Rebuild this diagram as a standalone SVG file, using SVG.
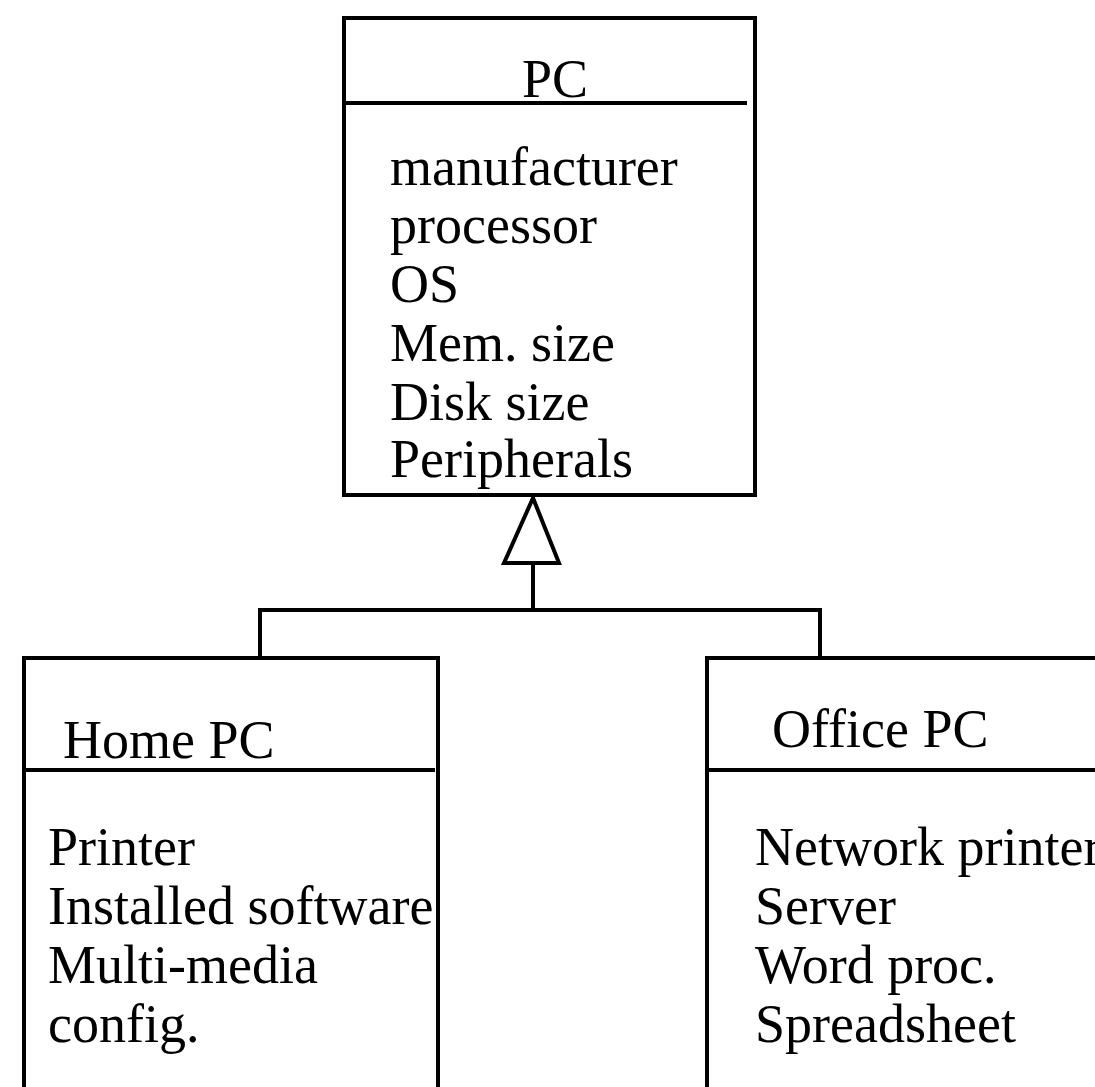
<svg xmlns="http://www.w3.org/2000/svg" width="1095" height="1087" viewBox="0 0 1095 1087">
<style>
.box{fill:#fff;stroke:#000;stroke-width:4}
.ln{stroke:#000;stroke-width:4;fill:none}
.t{font-family:"Liberation Serif","Times New Roman",serif;font-size:54px;fill:#000}
</style>
<rect width="1095" height="1087" fill="#fff"/>
<g id="connectors">
<polygon class="ln" points="533,498 504,563 559,563" fill="#fff"/>
<line class="ln" x1="533" y1="563" x2="533" y2="610"/>
<line class="ln" x1="260" y1="610" x2="821" y2="610"/>
<line class="ln" x1="260" y1="608" x2="260" y2="658"/>
<line class="ln" x1="820" y1="608" x2="820" y2="658"/>
</g>
<g id="pc">
<rect class="box" x="344" y="18" width="411" height="477"/>
<line class="ln" x1="344" y1="103" x2="747" y2="103"/>
<text class="t" x="555" y="97" text-anchor="middle">PC</text>
<text class="t" x="390" y="185">manufacturer</text>
<text class="t" x="390" y="243">processor</text>
<text class="t" x="390" y="302">OS</text>
<text class="t" x="390" y="361">Mem. size</text>
<text class="t" x="390" y="420">Disk size</text>
<text class="t" x="390" y="477">Peripherals</text>
</g>
<g id="home-pc">
<rect class="box" x="24" y="658" width="414" height="440"/>
<line class="ln" x1="24" y1="770" x2="435" y2="770"/>
<text class="t" x="63" y="758">Home PC</text>
<text class="t" x="48" y="865">Printer</text>
<text class="t" x="48" y="924">Installed software</text>
<text class="t" x="48" y="983">Multi-media</text>
<text class="t" x="48" y="1042">config.</text>
</g>
<g id="office-pc">
<rect class="box" x="707" y="658" width="420" height="440"/>
<line class="ln" x1="707" y1="770" x2="1100" y2="770"/>
<text class="t" x="772" y="747">Office PC</text>
<text class="t" x="755" y="865">Network printer</text>
<text class="t" x="755" y="924">Server</text>
<text class="t" x="755" y="983">Word proc.</text>
<text class="t" x="755" y="1042">Spreadsheet</text>
</g>
</svg>
